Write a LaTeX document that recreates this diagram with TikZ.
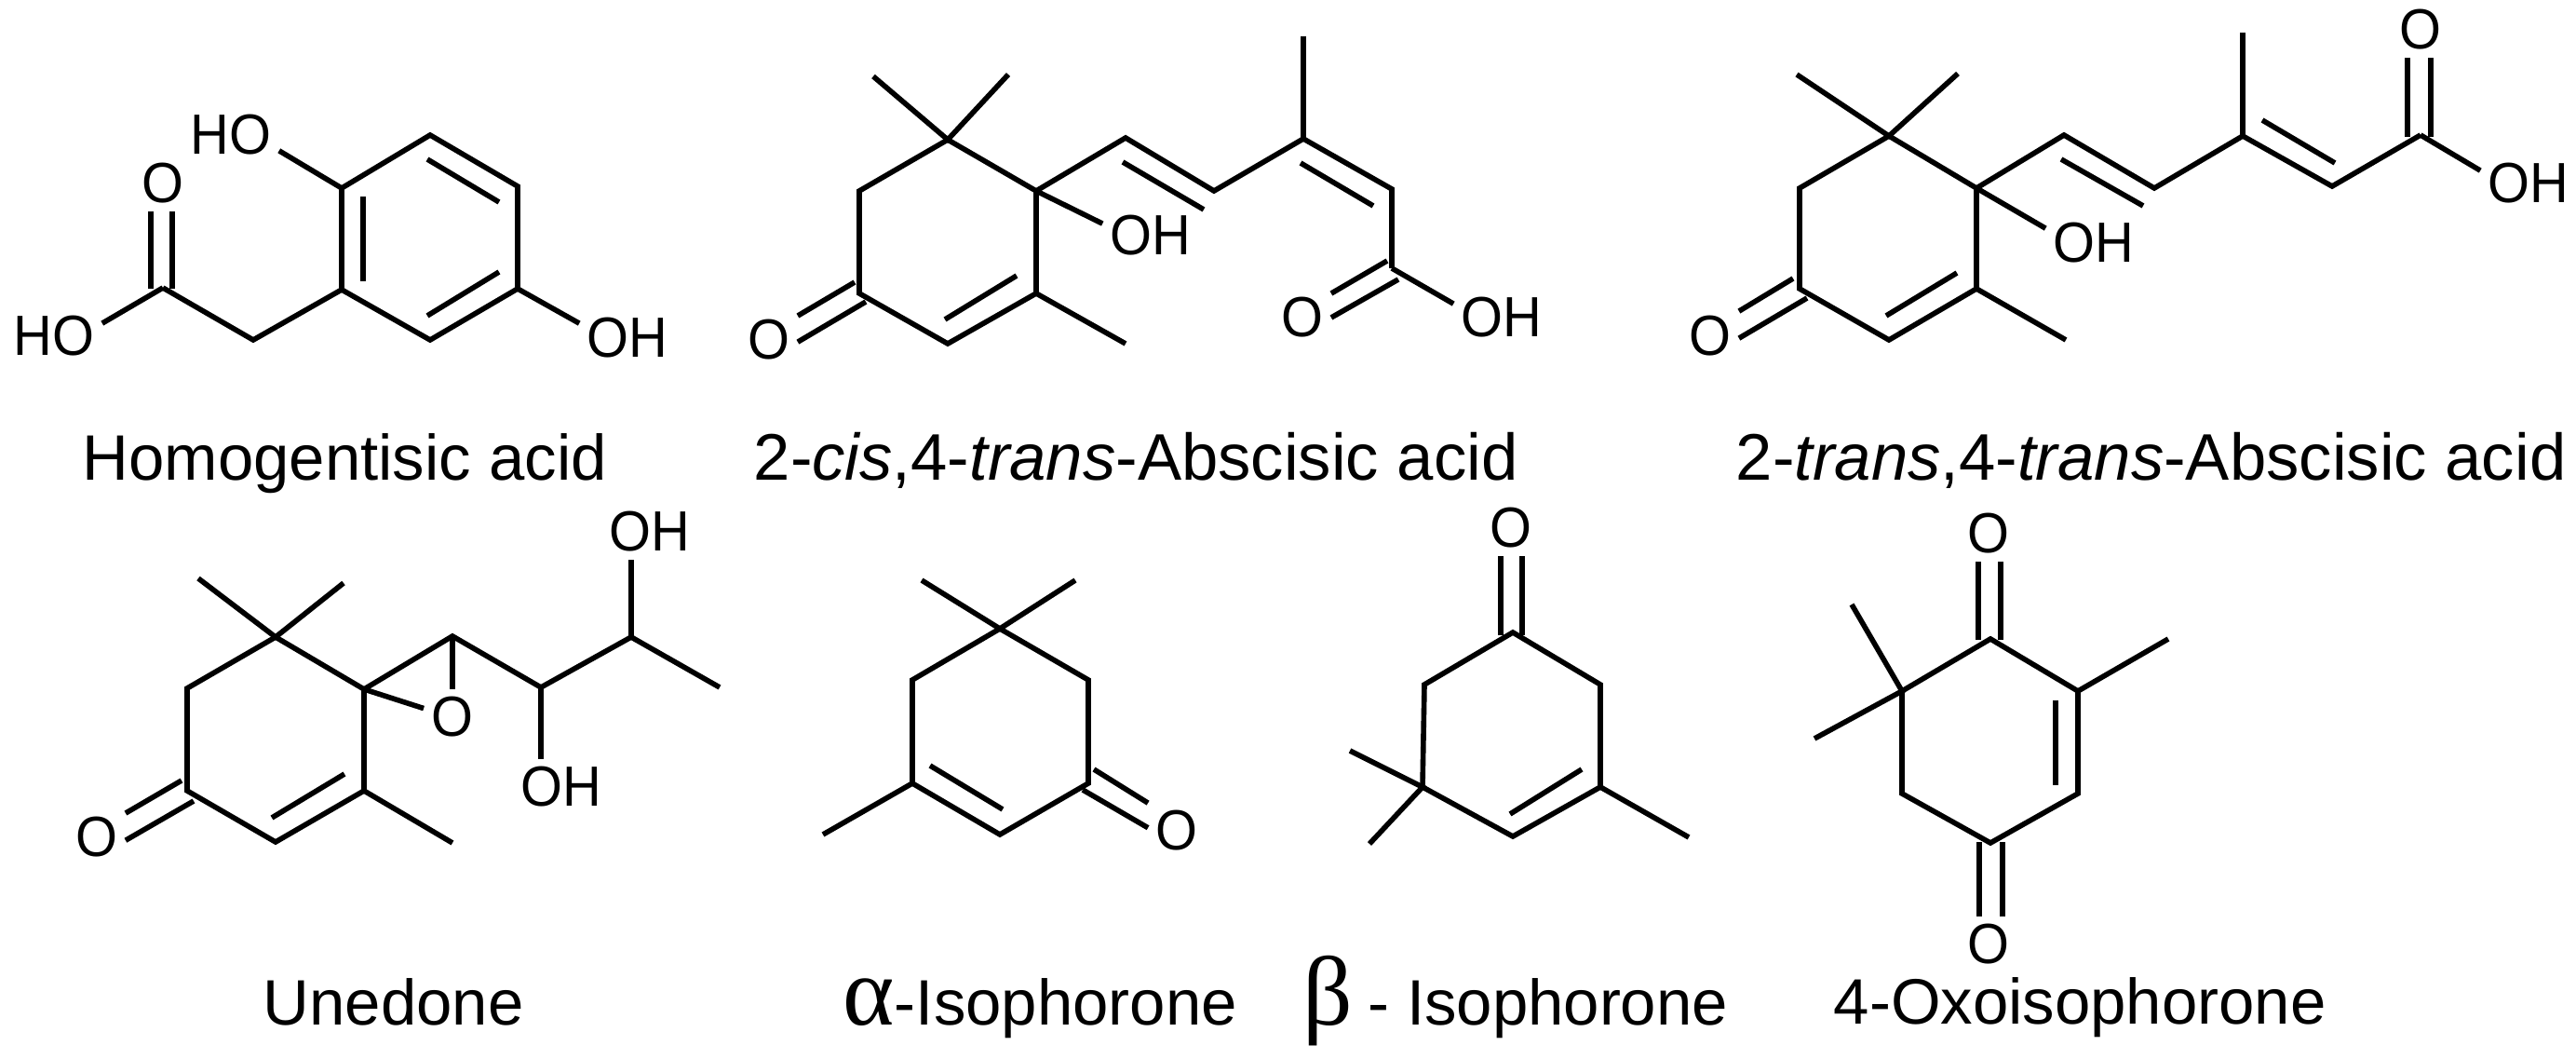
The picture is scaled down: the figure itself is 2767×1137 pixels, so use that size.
\documentclass[tikz,border=0pt]{standalone}
\usepackage{fontspec}
\setmainfont{Liberation Sans}
\newfontfamily\greekfont{Liberation Serif}
\newfontfamily\atomfont[FakeStretch=0.95]{Liberation Sans}
\usepackage{tikz}
\tikzset{
	bond/.style={line width=1.6pt, black},
	atom/.style={inner sep=2.2pt, font=\fontsize{17.3}{20}\atomfont},
	molname/.style={anchor=base west, inner sep=0pt, font=\fontsize{19.6}{23}\selectfont},
	widename/.style={molname, font=\fontsize{20.1}{23}\selectfont}
}

\begin{document}
\begin{tikzpicture}[x=0.01cm,y=-0.01cm]
	\useasboundingbox (0,0) rectangle (2767,1137);

	% homogentisic acid
	\coordinate (h1) at (367,202); \coordinate (h2) at (462,145); \coordinate (h3) at (556,200);
	\coordinate (h4) at (556,310); \coordinate (h5) at (462,365); \coordinate (h6) at (367,311);
	\coordinate (hch) at (272,365); \coordinate (hc) at (175,309);
	\coordinate (hd1) at (162,310); \coordinate (hd2) at (185,310);
	\coordinate (hi1) at (390,211); \coordinate (hi2) at (390,302);
	\coordinate (hi3) at (459,171); \coordinate (hi4) at (536,217);
	\coordinate (hi5) at (536,292); \coordinate (hi6) at (459,339);
	\node[atom] (hoh1) at (248,145) {HO};
	\node[atom] (ho) at (175,197) {O};
	\node[atom] (hoh2) at (58,361) {HO};
	\node[atom] (hoh3) at (674,363) {OH};
	\draw[bond] (h1) -- (h2) -- (h3) -- (h4) -- (h5) -- (h6) -- cycle;
	\draw[bond] (h6) -- (hch) -- (hc);
	\draw[bond] (hi1) -- (hi2);
	\draw[bond] (hi3) -- (hi4);
	\draw[bond] (hi5) -- (hi6);
	\draw[bond] (h1) -- (hoh1.-18);
	\draw[bond] (h4) -- (hoh3.163);
	\draw[bond] (hc) -- (hoh2.15);
	\draw[bond] (hd1) -- (hd1 |- ho.south);
	\draw[bond] (hd2) -- (hd2 |- ho.south);
	\node[molname] (hname) at (88,516) {Homogentisic acid};

	% 2-cis
	\coordinate (c1) at (1018,150); \coordinate (c2) at (923,205); \coordinate (c3) at (923,315);
	\coordinate (c4) at (1018,369); \coordinate (c5) at (1113,315); \coordinate (c6) at (1113,205);
	\coordinate (cm1) at (938,82); \coordinate (cm2) at (1083,80); \coordinate (cm3) at (1209,369);
	\coordinate (ci1) at (1015,343); \coordinate (ci2) at (1092,296);
	\coordinate (cd1) at (918,303); \coordinate (cd2) at (930,324);
	\coordinate (cs1) at (1209,148); \coordinate (cs2) at (1304,205); \coordinate (cs3) at (1400,149);
	\coordinate (cs4) at (1495,203); \coordinate (cs5) at (1495,288); \coordinate (cm4) at (1400,39);
	\coordinate (ci3) at (1206,174); \coordinate (ci4) at (1293,225);
	\coordinate (ci5) at (1397,175); \coordinate (ci6) at (1475,221);
	\coordinate (cd3) at (1490,280); \coordinate (cd4) at (1502,300);
	\node[atom] (co1) at (826,365) {O};
	\node[atom] (coh1) at (1236,253) {OH};
	\node[atom] (co2) at (1399,341) {O};
	\node[atom] (coh2) at (1613,341) {OH};
	\draw[bond] (c1) -- (c2) -- (c3) -- (c4) -- (c5) -- (c6) -- cycle;
	\draw[bond] (cm1) -- (c1) -- (cm2);
	\draw[bond] (c5) -- (cm3);
	\draw[bond] (ci1) -- (ci2);
	\draw[bond] (cd1) -- (co1.40);
	\draw[bond] (cd2) -- (co1.-4);
	\draw[bond] (c6) -- (coh1.166);
	\draw[bond] (c6) -- (cs1) -- (cs2) -- (cs3) -- (cs4) -- (cs5);
	\draw[bond] (cs3) -- (cm4);
	\draw[bond] (ci3) -- (ci4);
	\draw[bond] (ci5) -- (ci6);
	\draw[bond] (cd3) -- (co2.40);
	\draw[bond] (cd4) -- (co2.0);
	\draw[bond] (cs5) -- (coh2.164);
	\node[widename] (cname) at (809,516) {2-\textit{cis},4-\textit{trans}-Abscisic acid};

	% 2-trans
	\coordinate (t1) at (2029,146); \coordinate (t2) at (1933,202); \coordinate (t3) at (1933,310);
	\coordinate (t4) at (2029,365); \coordinate (t5) at (2123,310); \coordinate (t6) at (2123,202);
	\coordinate (tm1) at (1930,80); \coordinate (tm2) at (2103,79); \coordinate (tm3) at (2219,365);
	\coordinate (ti1) at (2026,339); \coordinate (ti2) at (2102,293);
	\coordinate (td1) at (1926,299); \coordinate (td2) at (1941,320);
	\coordinate (ts1) at (2217,145); \coordinate (ts2) at (2314,202); \coordinate (ts3) at (2409,146);
	\coordinate (ts4) at (2505,200); \coordinate (ts5) at (2600,145); \coordinate (tm4) at (2409,35);
	\coordinate (ti3) at (2214,171); \coordinate (ti4) at (2302,221);
	\coordinate (ti5) at (2430,129); \coordinate (ti6) at (2508,175);
	\coordinate (td3) at (2586,147); \coordinate (td4) at (2611,147);
	\node[atom] (to1) at (1837,361) {O};
	\node[atom] (toh1) at (2249,261) {OH};
	\node[atom] (to2) at (2600,32) {O};
	\node[atom] (toh2) at (2716,197) {OH};
	\draw[bond] (t1) -- (t2) -- (t3) -- (t4) -- (t5) -- (t6) -- cycle;
	\draw[bond] (tm1) -- (t1) -- (tm2);
	\draw[bond] (t5) -- (tm3);
	\draw[bond] (ti1) -- (ti2);
	\draw[bond] (td1) -- (to1.41);
	\draw[bond] (td2) -- (to1.-4);
	\draw[bond] (t6) -- (toh1.163);
	\draw[bond] (t6) -- (ts1) -- (ts2) -- (ts3) -- (ts4) -- (ts5);
	\draw[bond] (ts3) -- (tm4);
	\draw[bond] (ti3) -- (ti4);
	\draw[bond] (ti5) -- (ti6);
	\draw[bond] (td3) -- (td3 |- to2.south);
	\draw[bond] (td4) -- (td4 |- to2.south);
	\draw[bond] (ts5) -- (toh2.165);
	\node[widename] (tname) at (1864,516) {2-\textit{trans},4-\textit{trans}-Abscisic acid};

	% unedone
	\coordinate (u1) at (296,684); \coordinate (u2) at (201,739); \coordinate (u3) at (201,849);
	\coordinate (u4) at (296,904); \coordinate (u5) at (391,849); \coordinate (u6) at (391,740);
	\coordinate (um1) at (213,621); \coordinate (um2) at (369,626); \coordinate (um3) at (486,905);
	\coordinate (ui1) at (292,878); \coordinate (ui2) at (370,831);
	\coordinate (ud1) at (195,838); \coordinate (ud2) at (208,860);
	\coordinate (us1) at (486,683); \coordinate (us2) at (581,738); \coordinate (us3) at (678,684);
	\coordinate (um4) at (773,738);
	\node[atom] (uo1) at (104,899) {O};
	\node[atom] (uo2) at (486,770) {O};
	\node[atom] (uoh1) at (603,845) {OH};
	\node[atom] (uoh2) at (698,571) {OH};
	\draw[bond] (u1) -- (u2) -- (u3) -- (u4) -- (u5) -- (u6) -- cycle;
	\draw[bond] (um1) -- (u1) -- (um2);
	\draw[bond] (u5) -- (um3);
	\draw[bond] (ui1) -- (ui2);
	\draw[bond] (ud1) -- (uo1.40);
	\draw[bond] (ud2) -- (uo1.-6);
	\draw[bond] (u6) -- (us1) -- (us2) -- (us3) -- (um4);
	\draw[bond] (us1) -- (uo2);
	\draw[bond] (u6) -- (uo2.163);
	\draw[bond] (us2) -- (us2 |- uoh1.north);
	\draw[bond] (us3) -- (us3 |- uoh2.south);
	\node[molname] (uname) at (282,1100) {Unedone};

	% alpha
	\coordinate (a1) at (1074,675); \coordinate (a2) at (980,730); \coordinate (a3) at (980,841);
	\coordinate (a4) at (1074,896); \coordinate (a5) at (1169,841); \coordinate (a6) at (1169,730);
	\coordinate (am1) at (990,623); \coordinate (am2) at (1155,623); \coordinate (am3) at (884,896);
	\coordinate (ai1) at (999,822); \coordinate (ai2) at (1077,869);
	\coordinate (ad1) at (1175,826); \coordinate (ad2) at (1163,848);
	\node[atom] (ao) at (1264,892) {O};
	\draw[bond] (a1) -- (a2) -- (a3) -- (a4) -- (a5) -- (a6) -- cycle;
	\draw[bond] (am1) -- (a1) -- (am2);
	\draw[bond] (a3) -- (am3);
	\draw[bond] (ai1) -- (ai2);
	\draw[bond] (ad1) -- (ao.136);
	\draw[bond] (ad2) -- (ao.174);
	\node[molname] (aname) at (905,1100) {{\fontsize{30}{30}\greekfont α}-Isophorone};

	% beta
	\coordinate (b1) at (1625,679); \coordinate (b2) at (1530,735); \coordinate (b3) at (1528,845);
	\coordinate (b4) at (1625,898); \coordinate (b5) at (1719,845); \coordinate (b6) at (1719,735);
	\coordinate (bm1) at (1450,806); \coordinate (bm2) at (1471,906); \coordinate (bm3) at (1814,899);
	\coordinate (bi1) at (1622,874); \coordinate (bi2) at (1699,826);
	\coordinate (bd1) at (1612,682); \coordinate (bd2) at (1635,682);
	\node[atom] (bo) at (1623,567) {O};
	\draw[bond] (b1) -- (b2) -- (b3) -- (b4) -- (b5) -- (b6) -- cycle;
	\draw[bond] (bm1) -- (b3) -- (bm2);
	\draw[bond] (b5) -- (bm3);
	\draw[bond] (bi1) -- (bi2);
	\draw[bond] (bd1) -- (bd1 |- bo.south);
	\draw[bond] (bd2) -- (bd2 |- bo.south);
	\node[molname] (bname) at (1399,1100) {{\fontsize{30}{30}\greekfont β}\hspace{-1pt} - Isophorone};

	% oxo
	\coordinate (x1) at (2138,686); \coordinate (x2) at (2232,742); \coordinate (x3) at (2232,852);
	\coordinate (x4) at (2138,905); \coordinate (x5) at (2043,852); \coordinate (x6) at (2043,742);
	\coordinate (xm1) at (2329,686); \coordinate (xm2) at (1989,649); \coordinate (xm3) at (1949,793);
	\coordinate (xi1) at (2208,752); \coordinate (xi2) at (2208,843);
	\coordinate (xd1) at (2125,687); \coordinate (xd2) at (2149,687);
	\coordinate (xd3) at (2126,904); \coordinate (xd4) at (2151,904);
	\node[atom] (xo1) at (2136,573) {O};
	\node[atom] (xo2) at (2136,1014) {O};
	\draw[bond] (x1) -- (x2) -- (x3) -- (x4) -- (x5) -- (x6) -- cycle;
	\draw[bond] (x2) -- (xm1);
	\draw[bond] (xm2) -- (x6) -- (xm3);
	\draw[bond] (xi1) -- (xi2);
	\draw[bond] (xd1) -- (xd1 |- xo1.south);
	\draw[bond] (xd2) -- (xd2 |- xo1.south);
	\draw[bond] (xd3) -- (xd3 |- xo2.north);
	\draw[bond] (xd4) -- (xd4 |- xo2.north);
	\node[molname] (xname) at (1969,1099) {4-Oxoisophorone};
\end{tikzpicture}
\end{document}
